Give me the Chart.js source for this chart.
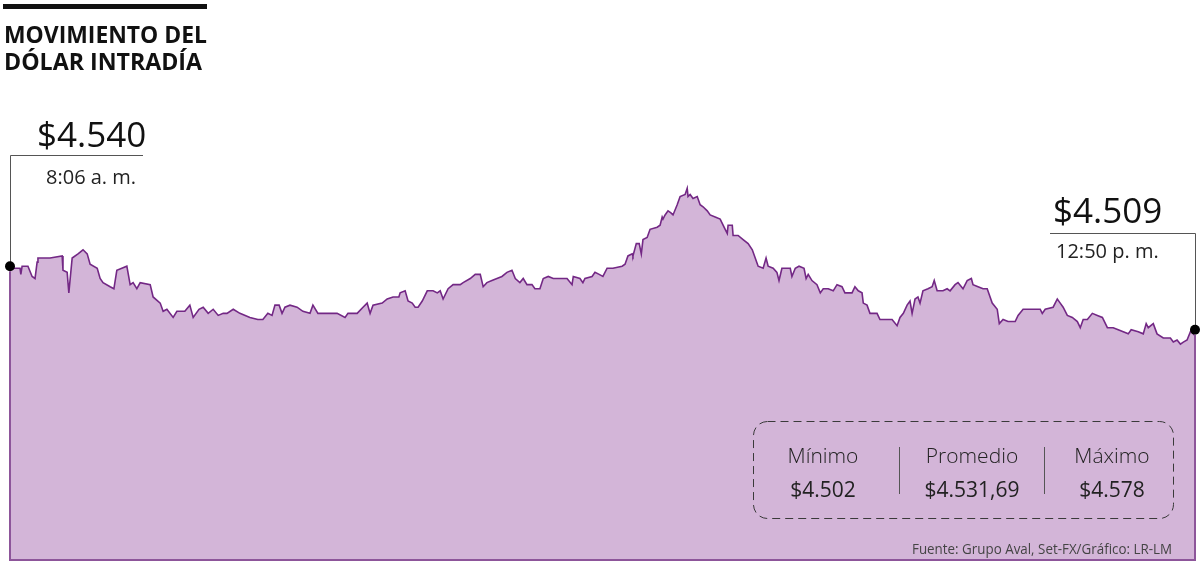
<!DOCTYPE html>
<html>
<head>
<meta charset="utf-8">
<title>Movimiento del dólar intradía</title>
<script src="https://cdn.jsdelivr.net/npm/chart.js"></script>
<style>
  body { margin: 0; background: #fff; font-family: "Open Sans", sans-serif; color: #1a1a1a; }
  #wrap { position: relative; width: 1200px; height: 565px; overflow: hidden; }
  #grafico { position: absolute; left: 0; top: 0; }
  .txt { position: absolute; white-space: nowrap; }
  #barra { position: absolute; left: 3px; top: 4px; width: 204px; height: 5px; background: #111; }
  .titulo { font-weight: 700; font-size: 24px; line-height: 27px; color: #111; transform-origin: left center; }
  .grande { font-size: 35px; line-height: 35px; color: #111; }
  .hora { font-size: 20px; line-height: 20px; color: #222; }
  .resumen { width: 160px; text-align: center; font-size: 21px; line-height: 24px; color: #222; }
  .resumen.etq { font-weight: 300; }
  #fuente { font-size: 14px; line-height: 16px; color: #444; transform-origin: left center; }
</style>
</head>
<body>
<div id="wrap">
  <canvas id="grafico" width="1200" height="565"></canvas>
  <div id="barra"></div>
  <div class="txt titulo" id="tit1" style="left:4px; top:20px;"></div>
  <div class="txt titulo" id="tit2" style="left:4px; top:47px;"></div>
  <div class="txt grande" id="valIni" style="left:37px; top:116px;"></div>
  <div class="txt hora" id="horaIni" style="left:46px; top:167px;"></div>
  <div class="txt grande" id="valFin" style="left:1053px; top:192px;"></div>
  <div class="txt hora" id="horaFin" style="left:1056px; top:241px;"></div>
  <div id="resumen"></div>
  <div class="txt" id="fuente" style="left:912px; top:541px;"></div>
</div>
<script>
// minutos después de las 8:00 a. m.
var minutos = [6.0, 6.5, 8.4, 8.6, 8.9, 10.3, 11.3, 12.0, 12.5, 12.7, 15.6, 18.5, 18.7, 19.7, 20.1, 20.9, 22.3, 23.5, 24.5, 25.2,
    26.9, 27.6, 28.3, 30.0, 30.9, 31.6, 32.8, 34.0, 34.8, 35.5, 36.4, 37.2, 39.6, 40.3, 42.0, 42.7, 43.6, 45.1, 46.0, 47.9,
    49.1, 49.9, 51.3,
    52.3, 53.5, 54.7, 55.9, 57.1, 58.0, 59.5, 61.1, 63.5, 65.4, 66.6, 67.8, 68.8, 69.5, 70.5, 71.2, 71.9, 73.1, 74.8, 76.2,
    77.9, 78.6, 79.8, 82.0, 83.2, 84.4, 86.3, 87.0, 89.2, 90.6, 91.6, 92.3, 93.0, 95.2, 96.4, 97.8, 99.2,
    99.5, 100.7, 101.4, 102.4, 103.1, 103.8, 104.8, 106.0, 107.4, 108.4, 109.1, 109.8, 111.0, 112.2, 113.9, 114.6, 116.3,
    117.5, 118.7, 119.4, 120.3, 121.5, 122.7, 123.9, 125.1, 126.3, 127.1, 128.2, 129.0, 129.9, 131.1, 131.8, 133.0, 133.8,
    135.0, 136.2, 137.8, 139.5, 140.7, 141.0, 142.6, 143.3, 143.8, 145.5, 146.2, 147.2,
    148.1, 149.1, 150.5, 152.7, 153.4, 154.1, 155.1, 155.3, 156.1, 156.8, 157.3, 157.7, 158.7, 159.4, 161.1, 161.8, 162.3,
    162.5, 163.0, 163.7, 164.4, 164.9, 165.9, 166.6, 167.8, 168.3, 168.5, 169.0, 169.7, 170.7, 171.4, 172.1, 173.1, 173.8,
    175.0, 176.2, 177.4, 177.9, 178.1, 179.1, 179.3, 180.5, 181.7, 182.9, 183.9, 184.6, 185.3, 186.5, 187.2, 187.7, 188.9,
    189.8, 190.3, 191.0, 192.2, 193.0, 193.4, 194.2, 195.1,
    196.3, 196.8, 197.3, 198.2, 199.4, 200.2, 200.9, 202.1, 203.3, 204.2, 205.4, 206.1, 207.8, 208.5, 209.3, 210.2, 210.5,
    211.4, 212.1, 213.8, 214.5, 216.2, 217.4, 218.6, 219.3, 220.1, 221.0, 221.7, 222.2, 222.9, 223.6, 224.1, 224.8, 226.0,
    227.0, 227.5, 228.2, 229.6, 230.6, 231.3, 232.5, 233.2, 234.4, 235.4, 236.4, 236.8, 238.0, 239.2, 240.2, 241.4, 242.6,
    243.1,
    244.0, 245.2, 246.9, 247.6, 248.8, 251.2, 252.9, 253.4, 254.1, 256.0, 257.0, 257.7, 258.4, 259.4, 260.6, 261.8, 262.5,
    263.2, 264.2, 265.4, 266.6, 267.8, 269.0, 270.4, 271.6, 272.8, 274.0, 274.7, 276.4, 277.6, 278.3, 278.8, 280.0, 280.9,
    282.4, 284.1, 284.8, 285.7, 286.5, 287.2, 288.1, 289.1, 289.6, 290.0];

var precios = [4540, 4539, 4539, 4536, 4540, 4540, 4535, 4534, 4542, 4544, 4544, 4545, 4538, 4537, 4527, 4544, 4546, 4548, 4546, 4541,
    4539, 4534, 4532, 4530, 4529, 4538, 4539, 4540, 4531, 4532, 4529, 4532, 4531, 4525, 4522, 4518, 4519, 4515, 4518, 4518,
    4521, 4515, 4519,
    4520, 4517, 4519, 4516, 4517, 4517, 4519, 4517, 4515, 4514, 4514, 4517, 4516, 4521, 4521, 4517, 4520, 4521, 4520, 4518,
    4517, 4521, 4517, 4517, 4517, 4517, 4515, 4517, 4517, 4520, 4522, 4517, 4521, 4522, 4524, 4525, 4525,
    4527, 4528, 4523, 4522, 4520, 4520, 4523, 4528, 4528, 4527, 4528, 4524, 4529, 4531, 4531, 4532, 4534,
    4536, 4536, 4530, 4532, 4533, 4534, 4535, 4537, 4538, 4534, 4532, 4534, 4531, 4531, 4529, 4529, 4534,
    4535, 4534, 4534, 4534, 4531, 4535, 4534, 4532, 4534, 4535, 4537, 4536,
    4535, 4539, 4539, 4540, 4541, 4545, 4546, 4545, 4551, 4551, 4546, 4553, 4554, 4558, 4559, 4560, 4564,
    4563, 4565, 4567, 4566, 4565, 4570, 4574, 4575, 4578, 4574, 4575, 4573, 4574, 4570, 4569, 4567, 4565,
    4564, 4563, 4558, 4556, 4560, 4560, 4555, 4555, 4553, 4551, 4548, 4544, 4540, 4539, 4544, 4540, 4539,
    4537, 4533, 4539, 4539, 4539, 4535, 4539, 4540,
    4539, 4534, 4536, 4533, 4531, 4527, 4529, 4529, 4528, 4531, 4530, 4527, 4527, 4530, 4528, 4527, 4522,
    4521, 4517, 4517, 4514, 4514, 4514, 4511, 4515, 4517, 4521, 4523, 4517, 4524, 4525, 4522, 4528, 4529,
    4530, 4533, 4528, 4528, 4529, 4528, 4531, 4532, 4529, 4533, 4534, 4531, 4530, 4529, 4529, 4522, 4519,
    4512,
    4514, 4513, 4513, 4516, 4519, 4519, 4519, 4517, 4519, 4520, 4524, 4522, 4520, 4516, 4515, 4513, 4510,
    4514, 4514, 4517, 4516, 4515, 4510, 4510, 4509, 4508, 4507, 4509, 4508, 4507, 4512, 4510, 4512, 4507,
    4505, 4505, 4503, 4504, 4502, 4503, 4504, 4509, 4507, 4509];

var titulo = ['MOVIMIENTO DEL', 'DÓLAR INTRADÍA'];
var apertura = ['$4.540', '8:06 a. m.'];
var cierre = ['$4.509', '12:50 p. m.'];
var resumenEtiquetas = ['Mínimo', 'Promedio', 'Máximo'];
var resumenValores = ['$4.502', '$4.531,69', '$4.578'];
var fuente = 'Fuente: Grupo Aval, Set-FX/Gráfico: LR-LM';

// textos
document.getElementById('tit1').textContent = titulo[0];
document.getElementById('tit2').textContent = titulo[1];
document.getElementById('valIni').textContent = apertura[0];
document.getElementById('horaIni').textContent = apertura[1];
document.getElementById('valFin').textContent = cierre[0];
document.getElementById('horaFin').textContent = cierre[1];
document.getElementById('fuente').textContent = fuente;

var centros = [823, 972, 1112];
var resumen = document.getElementById('resumen');
resumenEtiquetas.forEach(function(t, i) {
    var e = document.createElement('div');
    e.className = 'txt resumen etq';
    e.style.left = (centros[i] - 80) + 'px';
    e.style.top = '443px';
    e.textContent = t;
    resumen.appendChild(e);
    var v = document.createElement('div');
    v.className = 'txt resumen';
    v.style.left = (centros[i] - 80) + 'px';
    v.style.top = '477px';
    v.textContent = resumenValores[i];
    resumen.appendChild(v);
});

function ajustar(id, ancho) {
    var el = document.getElementById(id);
    var w = el.getBoundingClientRect().width;
    el.style.transform = 'scaleX(' + (ancho / w) + ')';
}
ajustar('tit1', 203);
ajustar('tit2', 198);
ajustar('fuente', 260);

// bordes del área, líneas guía y recuadro
var marco = {
    id: 'marco',
    beforeDatasetsDraw: function(chart) {
        var pts = chart.getDatasetMeta(0).data;
        var a = pts[0], b = pts[pts.length - 1];
        var c = chart.ctx;
        c.save();
        c.strokeStyle = '#555';
        c.lineWidth = 1;
        c.beginPath();
        c.moveTo(a.x + 0.5, a.y);
        c.lineTo(a.x + 0.5, 155.5);
        c.lineTo(143, 155.5);
        c.moveTo(b.x + 0.5, b.y);
        c.lineTo(b.x + 0.5, 233.5);
        c.lineTo(1050, 233.5);
        c.stroke();
        c.restore();
    },
    afterDatasetsDraw: function(chart) {
        var pts = chart.getDatasetMeta(0).data;
        var a = pts[0], b = pts[pts.length - 1];
        var area = chart.chartArea;
        var c = chart.ctx;
        c.save();
        c.strokeStyle = '#8d559a';
        c.lineWidth = 2;
        c.beginPath();
        c.moveTo(a.x, a.y + 5);
        c.lineTo(a.x, area.bottom);
        c.lineTo(b.x, area.bottom);
        c.lineTo(b.x, b.y + 5);
        c.stroke();

        c.strokeStyle = '#3a3a3a';
        c.lineWidth = 1;
        c.setLineDash([8, 5]);
        c.beginPath();
        c.roundRect(753.5, 421.5, 420, 97, 14);
        c.stroke();
        c.setLineDash([]);
        c.strokeStyle = '#555';
        c.beginPath();
        c.moveTo(899.5, 447); c.lineTo(899.5, 494);
        c.moveTo(1044.5, 447); c.lineTo(1044.5, 494);
        c.stroke();
        c.restore();
    }
};

var ultimo = precios.length - 1;
new Chart(document.getElementById('grafico').getContext('2d'), {
    type: 'line',
    data: {
        datasets: [{
            data: minutos.map(function(m, i) { return { x: m, y: precios[i] }; }),
            borderColor: '#732885',
            borderWidth: 1.6,
            backgroundColor: '#d3b5d8',
            fill: 'start',
            tension: 0,
            clip: false,
            pointRadius: function(ctx) { return (ctx.dataIndex === 0 || ctx.dataIndex === ultimo) ? 5 : 0; },
            pointBackgroundColor: '#000',
            pointBorderWidth: 0
        }]
    },
    options: {
        responsive: false,
        animation: false,
        events: [],
        layout: { padding: { left: 10, right: 5, top: 0, bottom: 2 } },
        plugins: { legend: { display: false }, tooltip: { enabled: false } },
        scales: {
            x: { type: 'linear', min: 6, max: 290, display: false },
            y: { min: 4396.7, max: 4667.4, display: false }
        }
    },
    plugins: [marco]
});
</script>
</body>
</html>
